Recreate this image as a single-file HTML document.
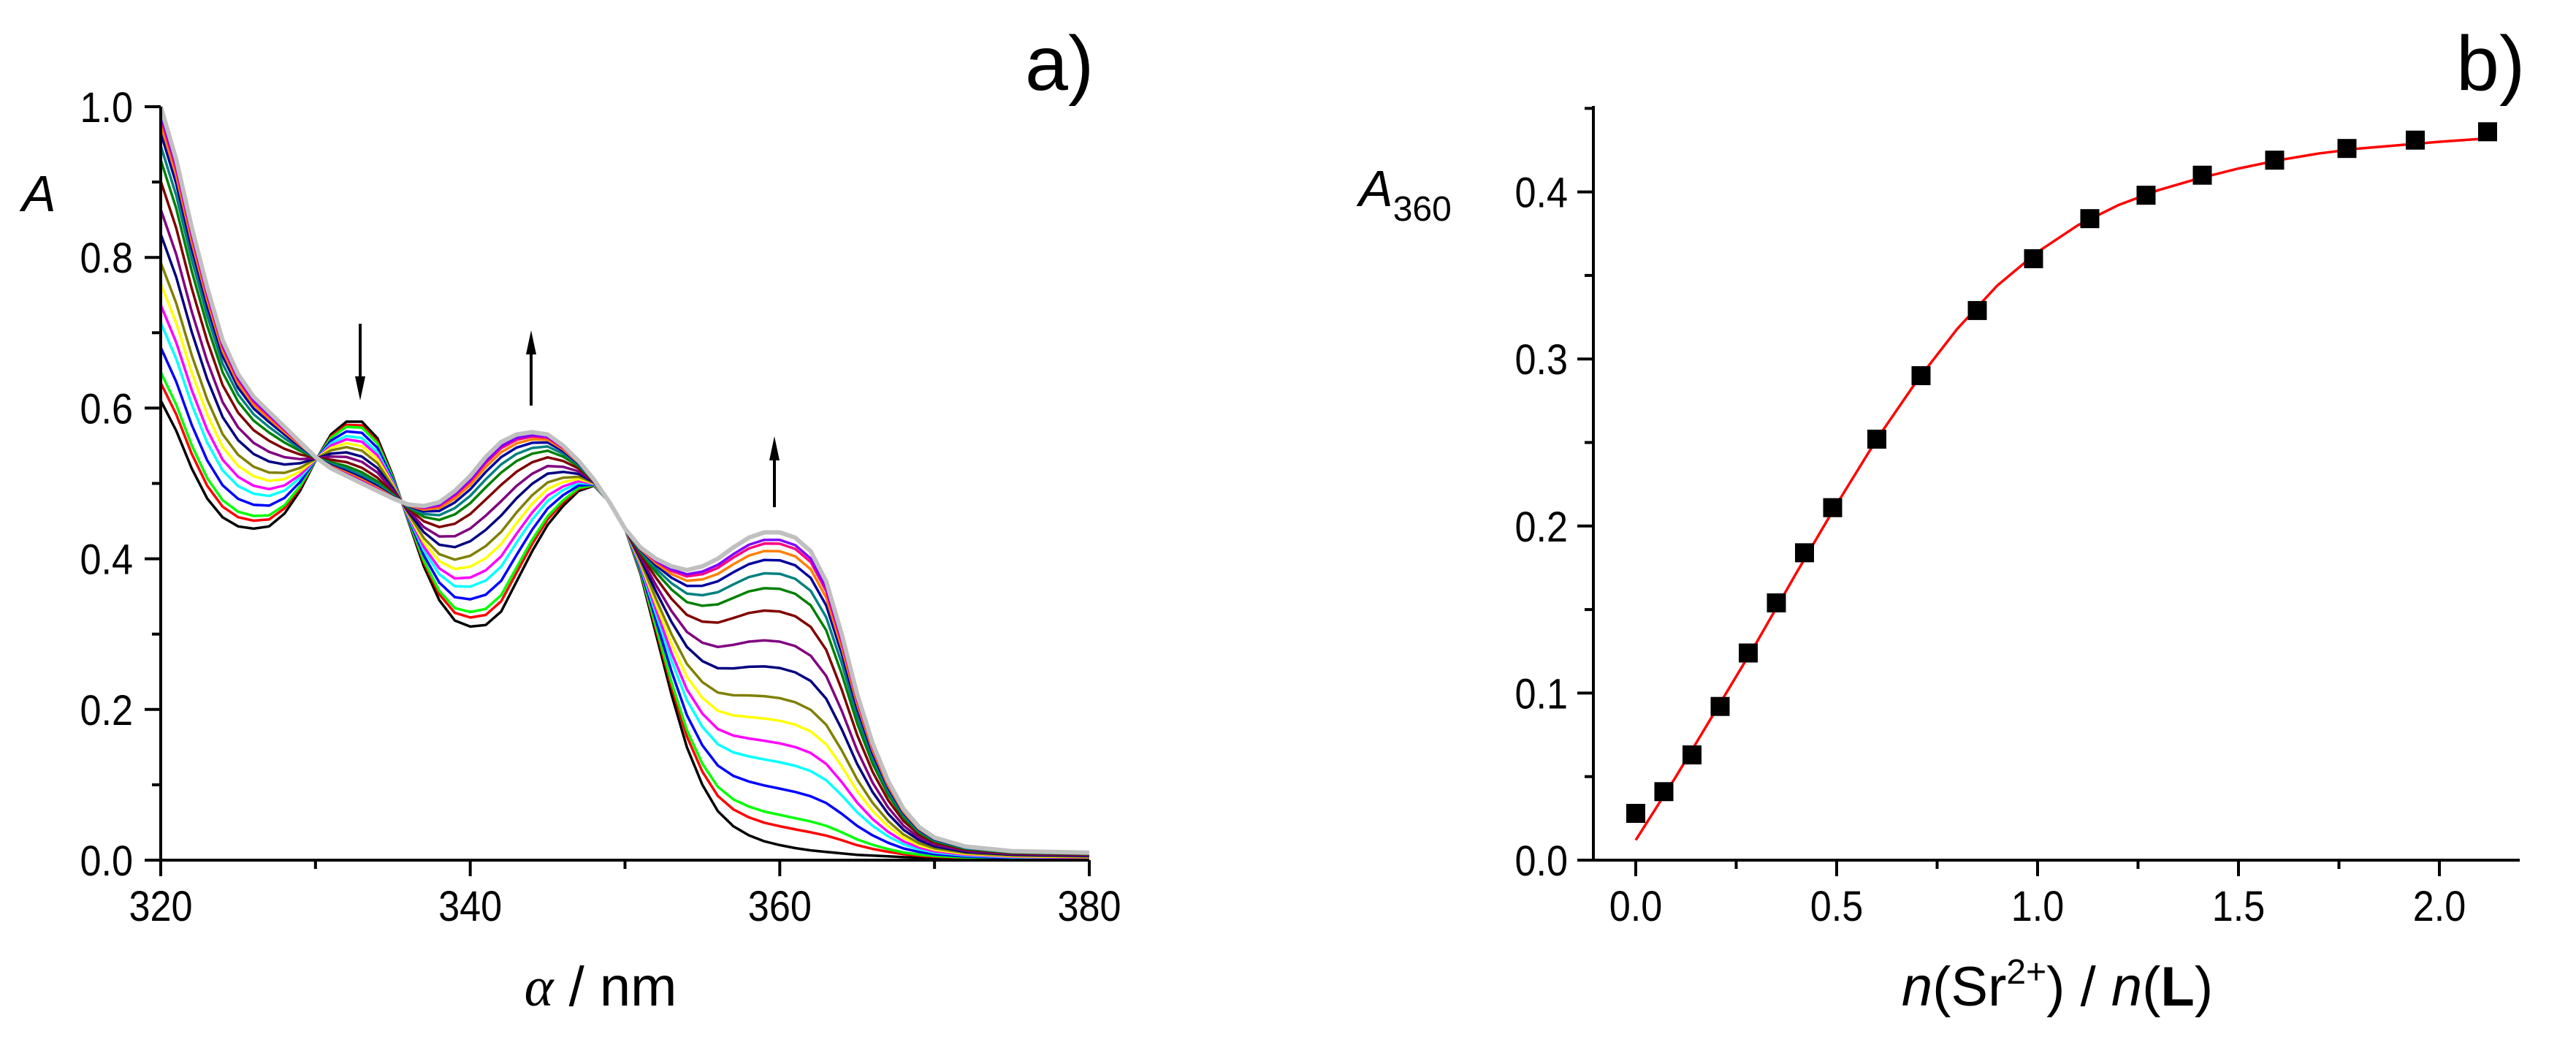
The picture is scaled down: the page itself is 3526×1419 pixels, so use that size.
<!DOCTYPE html>
<html><head><meta charset="utf-8"><style>
html,body{margin:0;padding:0;background:#fff;}
svg{display:block;font-family:"Liberation Sans",Arial,sans-serif;}
</style></head><body>
<svg id="chart" width="3526" height="1419" viewBox="0 0 3526 1419" xmlns="http://www.w3.org/2000/svg">
<g id="pa"></g>
<g id="pb"></g>
<text x="1403" y="123" font-size="106">a)</text>
<text x="3362" y="123" font-size="106">b)</text>
<text x="30" y="289" font-size="70" font-style="italic">A</text>
<text x="822" y="1376" font-size="76" text-anchor="middle"><tspan font-family="Liberation Serif" font-style="italic">α</tspan> / nm</text>
<text x="1860" y="282" font-size="70"><tspan font-style="italic">A</tspan><tspan font-size="48" dy="20">360</tspan></text>
<text x="2816" y="1376" font-size="76" text-anchor="middle"><tspan font-style="italic">n</tspan>(Sr<tspan font-size="48" dy="-30">2+</tspan><tspan dy="30">) / </tspan><tspan font-style="italic">n</tspan>(<tspan font-weight="bold">L</tspan>)</text>
<g><line x1="493" y1="443" x2="493" y2="530" stroke="#000" stroke-width="4"/><path d="M486,515 L493,548 L500,515 Z" fill="#000"/></g>
<g><line x1="727" y1="555" x2="727" y2="470" stroke="#000" stroke-width="4"/><path d="M720,485 L727,452 L734,485 Z" fill="#000"/></g>
<g><line x1="1060" y1="694" x2="1060" y2="615" stroke="#000" stroke-width="4"/><path d="M1053,630 L1060,597 L1067,630 Z" fill="#000"/></g>
</svg>
<script>
// ---------- Panel a data ----------
const wl = [320,321,322,323,324,325,326,327,328,329,330,331,332,333,334,335,336,337,338,339,340,341,342,343,344,345,346,347,348,349,350,351,352,353,354,355,356,357,358,359,360,361,362,363,364,365,366,367,368,369,370,372,375,380];
const specStart = [0.61,0.57,0.52,0.48,0.455,0.443,0.44,0.443,0.46,0.49,0.53,0.565,0.582,0.582,0.56,0.51,0.45,0.39,0.345,0.318,0.31,0.312,0.33,0.37,0.41,0.445,0.47,0.49,0.497,0.475,0.44,0.38,0.30,0.22,0.15,0.10,0.065,0.045,0.033,0.025,0.02,0.016,0.013,0.011,0.009,0.007,0.006,0.005,0.004,0.0035,0.003,0.002,0.001,0.0];
const specEnd = [1.0,0.93,0.84,0.76,0.69,0.645,0.615,0.595,0.575,0.555,0.535,0.52,0.51,0.5,0.49,0.48,0.472,0.47,0.475,0.49,0.51,0.535,0.555,0.565,0.568,0.565,0.55,0.53,0.505,0.475,0.44,0.415,0.40,0.39,0.385,0.39,0.40,0.415,0.428,0.435,0.435,0.428,0.41,0.37,0.30,0.22,0.155,0.105,0.068,0.044,0.03,0.018,0.012,0.01];
const a360 = [0.02,0.045,0.06,0.095,0.13,0.155,0.185,0.215,0.255,0.29,0.33,0.36,0.38,0.398,0.41,0.42,0.425,0.435];
const specColors = ["#000000","#ff0000","#00ff00","#0000ff","#00ffff","#ff00ff","#ffff00","#808000","#000080","#800080","#800000","#008000","#008080","#0000a0","#ff8000","#ff0080","#8000ff","#c0c0c0"];
const axTicksA = [320,340,360,380];
const ayTicksA = [0.0,0.2,0.4,0.6,0.8,1.0];
const ayTickLabelsA = ["0.0","0.2","0.4","0.6","0.8","1.0"];

// ---------- Panel b data ----------
const ratio = [0.0,0.07,0.14,0.21,0.28,0.35,0.42,0.49,0.60,0.71,0.85,0.99,1.13,1.27,1.41,1.59,1.77,1.94,2.12];
const absb = [0.028,0.041,0.063,0.092,0.124,0.154,0.184,0.211,0.252,0.290,0.329,0.360,0.384,0.398,0.410,0.419,0.426,0.431,0.436];
const fitX = [0,0.1,0.2,0.3,0.4,0.5,0.6,0.7,0.8,0.9,1.0,1.1,1.2,1.3,1.4,1.5,1.6,1.7,1.8,1.9,2.0,2.12];
const fitY = [0.012,0.05,0.09,0.13,0.172,0.213,0.252,0.287,0.318,0.344,0.364,0.38,0.392,0.401,0.408,0.414,0.419,0.423,0.426,0.428,0.43,0.432];
const bxTicks = [0.0,0.5,1.0,1.5,2.0];
const bxTickLabels = ["0.0","0.5","1.0","1.5","2.0"];
const byTicks = [0.0,0.1,0.2,0.3,0.4];
const byTickLabels = ["0.0","0.1","0.2","0.3","0.4"];

const NS="http://www.w3.org/2000/svg";
function mk(parent,tag,attrs,text){const e=document.createElementNS(NS,tag);for(const k in attrs)e.setAttribute(k,attrs[k]);if(text!==undefined)e.textContent=text;parent.appendChild(e);return e;}
function label(parent,x,y,anchor,str){
  const t=mk(parent,'text',{x:0,y:0,'font-size':58,'text-anchor':anchor,transform:`translate(${x},${y}) scale(0.9,1)`},str);
  return t;
}

// ---- Panel a ----
const pa=document.getElementById('pa');
const AX0=220,AX1=1491,AY0=1177,AY1=146;
const xa=v=>AX0+(v-320)/60*(AX1-AX0);
const ya=v=>AY0-v/1.0*(AY0-AY1);
const nA=a360.length;
a360.forEach((v,i)=>{
  const f=(v-a360[0])/(a360[nA-1]-a360[0]);
  const pts=wl.map((w,j)=>xa(w).toFixed(1)+","+ya(specStart[j]+f*(specEnd[j]-specStart[j])).toFixed(1)).join(" ");
  const p=mk(pa,'polyline',{points:pts,fill:'none',stroke:specColors[i],'stroke-width':i===nA-1?6:3.5,'stroke-linejoin':'round'});
  
  
});
let ax=mk(pa,'path',{d:`M${AX0},${AY1} V${AY0} H${AX1}`,fill:'none',stroke:'#000','stroke-width':4});


for(let v=320;v<=380;v+=10){const maj=axTicksA.includes(v);mk(pa,'line',{x1:xa(v),x2:xa(v),y1:AY0,y2:AY0+(maj?22:12),stroke:'#000','stroke-width':4});}
axTicksA.forEach(v=>{
  const t=label(pa,xa(v),1260,'middle',String(v));
  
  
});
for(let k=0;k<=10;k++){const v=k/10;const maj=k%2===0;mk(pa,'line',{x1:AX0,x2:AX0-(maj?22:12),y1:ya(v),y2:ya(v),stroke:'#000','stroke-width':4});}
ayTicksA.forEach((v,i)=>{
  const t=label(pa,182,ya(v)+21,'end',ayTickLabelsA[i]);
  
  
});

// ---- Panel b ----
const pb=document.getElementById('pb');
const BX0=2181,BX1=3449,BY0=1177,BY1=145;
const xb=v=>2239+v*550;
const yb=v=>BY0-v*2286;
let bx=mk(pb,'path',{d:`M${BX0},${BY1} V${BY0} H${BX1}`,fill:'none',stroke:'#000','stroke-width':4});


for(let k=0;k<=8;k++){const v=k*0.25;const maj=k%2===0;mk(pb,'line',{x1:xb(v),x2:xb(v),y1:BY0,y2:BY0+(maj?22:12),stroke:'#000','stroke-width':4});}
bxTicks.forEach((v,i)=>{
  const t=label(pb,xb(v),1260,'middle',bxTickLabels[i]);
  
  
});
for(let k=0;k<=9;k++){const v=k*0.05;const maj=k%2===0;mk(pb,'line',{x1:BX0,x2:BX0-(maj?22:12),y1:yb(v),y2:yb(v),stroke:'#000','stroke-width':4});}
byTicks.forEach((v,i)=>{
  const t=label(pb,2146,yb(v)+21,'end',byTickLabels[i]);
  
  
});
const fit=mk(pb,'polyline',{points:fitX.map((x,i)=>xb(x).toFixed(1)+","+yb(fitY[i]).toFixed(1)).join(" "),fill:'none',stroke:'#ff0000','stroke-width':3.5,'stroke-linejoin':'round'});


ratio.forEach((x,i)=>{
  const r=mk(pb,'rect',{x:xb(x)-13,y:yb(absb[i])-13,width:26,height:26,fill:'#000'});
  
  
});
</script>
</body></html>
